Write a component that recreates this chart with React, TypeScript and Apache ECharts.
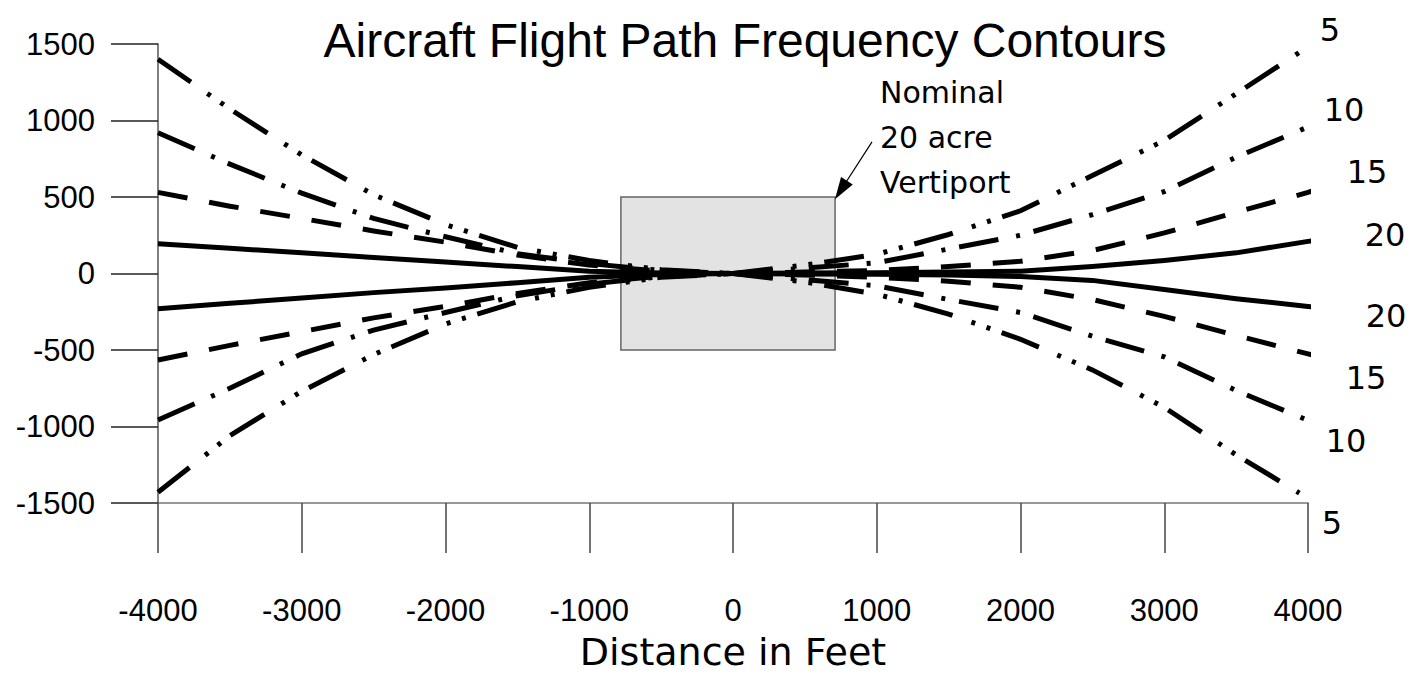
import React, { useEffect, useRef } from "react";
import * as echarts from "echarts";

// ---- Data ----
const xTicks = [-4000, -3000, -2000, -1000, 0, 1000, 2000, 3000, 4000];
const yTicks = [-1500, -1000, -500, 0, 500, 1000, 1500];

const leftX = [-4000, -3500, -3000, -2500, -2000, -1500, -1000, -500, 0];
const left5Up = [1400, 1075, 775, 515, 320, 170, 85, 25, 0];
const left5Down = [-1430, -1060, -770, -530, -330, -185, -90, -25, 0];
const left10Up = [920, 715, 525, 360, 240, 130, 65, 20, 0];
const left10Down = [-957, -750, -525, -370, -255, -145, -70, -20, 0];
const left15Up = [530, 440, 360, 278, 205, 120, 55, 15, 0];
const left15Down = [-565, -470, -380, -290, -215, -130, -60, -18, 0];
const left20Up = [195, 165, 135, 105, 75, 45, 15, 4, 0];
const left20Down = [-230, -195, -160, -125, -95, -60, -25, -6, 0];

const right5X = [0, 500, 1000, 1500, 2000, 2500, 3000, 3500, 3940];
const right5Up = [0, 55, 125, 255, 410, 640, 870, 1175, 1445];
const right5Down = [0, -55, -135, -265, -430, -630, -875, -1185, -1435];
const right10X = [0, 500, 1000, 1500, 2000, 2500, 3000, 3500, 4000];
const right10Up = [0, 35, 70, 160, 250, 385, 535, 760, 958];
const right10Down = [0, -40, -80, -170, -255, -410, -545, -765, -960];
const right15X = [0, 500, 1000, 1500, 2000, 2500, 3000, 3500, 4000, 4140];
const right15Up = [0, 10, 20, 45, 80, 150, 265, 400, 530, 575];
const right15Down = [0, -10, -25, -50, -90, -170, -280, -405, -525, -565];
const right20X = [0, 500, 1000, 1500, 2000, 2500, 3000, 3500, 4000, 4300];
const right20Up = [0, 3, 5, 10, 15, 45, 85, 135, 210, 240];
const right20Down = [0, -3, -5, -10, -20, -45, -105, -165, -215, -250];

const vertiportX = [-780, 710];
const vertiportY = [500, -500];
const arrowFrom = [967, 860];
const arrowTo = [751, 546];

const title = "Aircraft Flight Path Frequency Contours";
const xAxisTitle = "Distance in Feet";
const annotation = "Nominal\n20 acre\nVertiport";
const contourLabels = ["5", "10", "15", "20", "20", "15", "10", "5"];

const DASH_5 = [40, 20, 4, 12, 4, 12];
const DASH_10 = [40, 18, 4, 14];
const DASH_15 = [30, 22];

function pairs(xs: number[], ys: number[]) {
  return xs.map((x, i) => [x, ys[i]]);
}

function lineSeries(name: string, xs: number[], ys: number[], dash: any) {
  return {
    name,
    type: "line",
    data: pairs(xs, ys),
    symbol: "none",
    clip: false,
    z: 3,
    silent: true,
    lineStyle: { color: "#000", width: 5, type: dash, cap: "butt", join: "miter" },
  };
}

export default function App() {
  const ref = useRef<HTMLDivElement>(null);
  useEffect(() => {
    if (!ref.current) return;
    const chart = echarts.init(ref.current, undefined, { renderer: "svg" });
    const series: any[] = [
      {
        type: "line",
        data: [],
        z: 1,
        markArea: {
          silent: true,
          itemStyle: { color: "#e3e3e3", borderColor: "#666", borderWidth: 1.5 },
          data: [[{ xAxis: vertiportX[0], yAxis: vertiportY[0] }, { xAxis: vertiportX[1], yAxis: vertiportY[1] }]],
        },
        markLine: {
          silent: true,
          symbol: ["none", "triangle"],
          symbolSize: [14, 22],
          label: { show: false },
          lineStyle: { color: "#000", width: 1.2, type: "solid" },
          data: [[{ coord: arrowFrom }, { coord: arrowTo }]],
        },
      },
      lineSeries("5 up L", leftX, left5Up, DASH_5),
      lineSeries("5 down L", leftX, left5Down, DASH_5),
      lineSeries("10 up L", leftX, left10Up, DASH_10),
      lineSeries("10 down L", leftX, left10Down, DASH_10),
      lineSeries("15 up L", leftX, left15Up, DASH_15),
      lineSeries("15 down L", leftX, left15Down, DASH_15),
      lineSeries("20 up L", leftX, left20Up, "solid"),
      lineSeries("20 down L", leftX, left20Down, "solid"),
      lineSeries("5 up R", right5X, right5Up, DASH_5),
      lineSeries("5 down R", right5X, right5Down, DASH_5),
      lineSeries("10 up R", right10X, right10Up, DASH_10),
      lineSeries("10 down R", right10X, right10Down, DASH_10),
      lineSeries("15 up R", right15X, right15Up, DASH_15),
      lineSeries("15 down R", right15X, right15Down, DASH_15),
      lineSeries("20 up R", right20X, right20Up, "solid"),
      lineSeries("20 down R", right20X, right20Down, "solid"),
    ];

    const labelPos = [
      [1330, 30], [1344, 110], [1367, 172], [1385, 235],
      [1386, 316], [1366, 378], [1346, 441], [1332, 523],
    ];
    const graphic: any[] = [
      {
        type: "text",
        x: 745,
        y: 40,
        style: { text: title, font: '48px "Liberation Sans", Arial, sans-serif', fill: "#000", align: "center", verticalAlign: "middle" },
      },
      {
        type: "text",
        x: 733,
        y: 652,
        style: { text: xAxisTitle, font: '38px "DejaVu Sans", sans-serif', fill: "#000", align: "center", verticalAlign: "middle" },
      },
      {
        type: "text",
        x: 880,
        y: 70,
        style: { text: annotation, font: '30px "DejaVu Sans", sans-serif', lineHeight: 45, fill: "#000", align: "left", verticalAlign: "top" },
      },
      ...contourLabels.map((t, i) => ({
        type: "text",
        x: labelPos[i][0],
        y: labelPos[i][1],
        style: { text: t, font: '32px "DejaVu Sans", sans-serif', fill: "#000", align: "center", verticalAlign: "middle" },
      })),
    ];

    const plain = (v: number) => String(v);

    chart.setOption({
      animation: false,
      grid: { left: 158, right: 116, top: 44, bottom: 172, outerBoundsMode: "none" },
      xAxis: {
        type: "value",
        min: xTicks[0],
        max: xTicks[xTicks.length - 1],
        interval: 1000,
        splitLine: { show: false },
        axisLine: { show: true, onZero: false, lineStyle: { color: "#777", width: 1.5 } },
        axisTick: { show: true, length: 50, inside: false, lineStyle: { color: "#444", width: 1.5 } },
        axisLabel: { margin: 92, fontSize: 31, fontFamily: '"Liberation Sans", Arial, sans-serif', color: "#000", formatter: plain },
      },
      yAxis: {
        type: "value",
        min: yTicks[0],
        max: yTicks[yTicks.length - 1],
        interval: 500,
        splitLine: { show: false },
        axisLine: { show: true, onZero: false, lineStyle: { color: "#555", width: 1.5 } },
        axisTick: { show: true, length: 47, inside: false, lineStyle: { color: "#222", width: 1.5 } },
        axisLabel: { margin: 63, fontSize: 31, fontFamily: '"Liberation Sans", Arial, sans-serif', color: "#000", formatter: plain },
      },
      series,
      graphic,
    });
    return () => chart.dispose();
  }, []);
  return <div ref={ref} style={{ position: "absolute", left: 0, top: 0, width: 1424, height: 675 }} />;
}
